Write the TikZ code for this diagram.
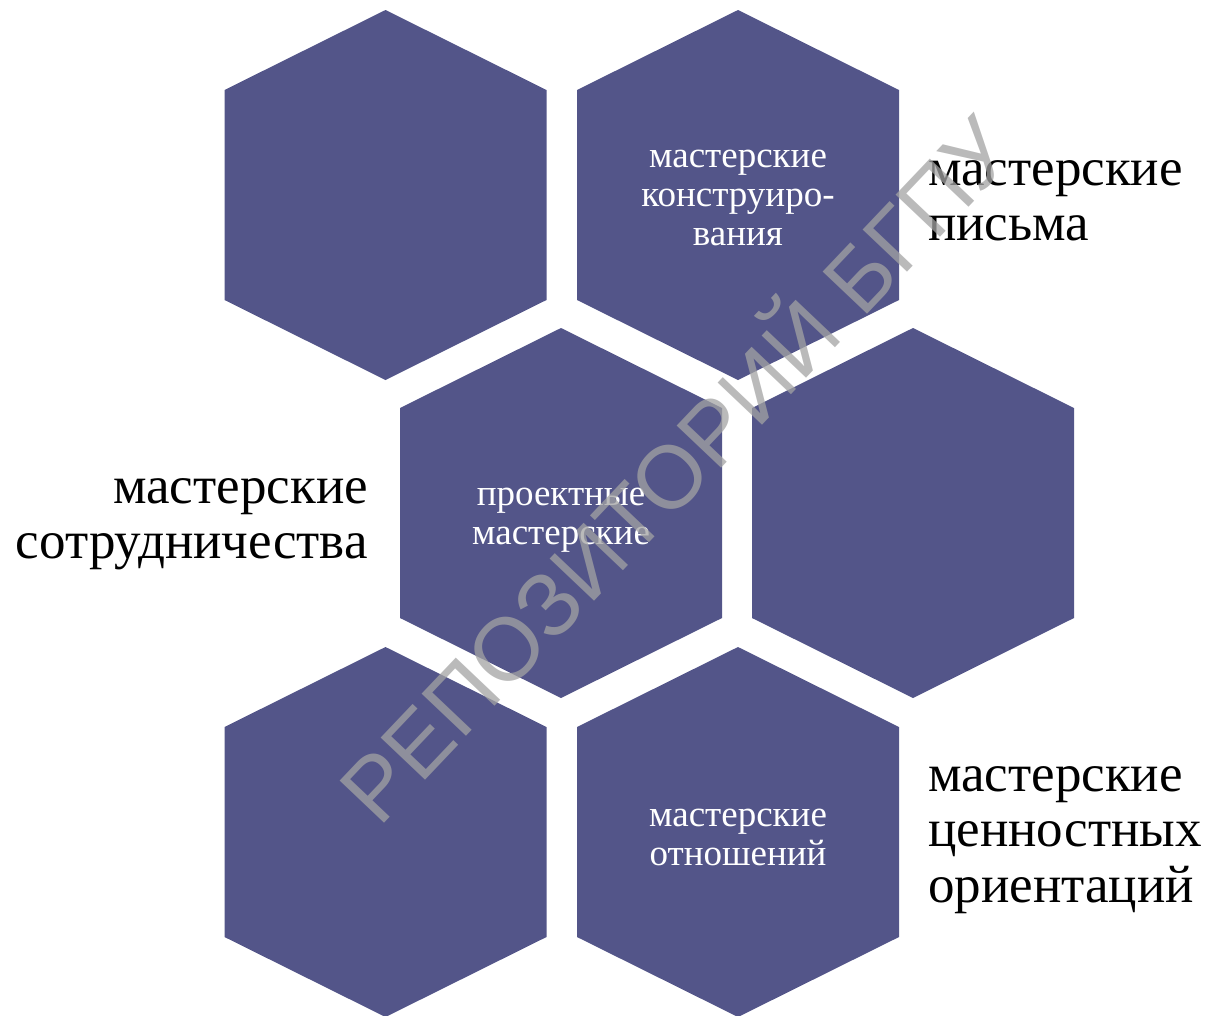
\documentclass[tikz,border=0pt]{standalone}
\usepackage{fontspec}
\setmainfont{Liberation Serif}
\newfontfamily\wmfont{Liberation Sans}
\definecolor{hexfill}{RGB}{83,85,137}
\tikzset{
  hexbox/.style={fill=hexfill, draw=none},
  intext/.style={text=white, align=center, font=\fontsize{37}{39}\selectfont, inner sep=0pt},
  outtext/.style={text=black, font=\fontsize{53}{55.5}\selectfont, inner sep=0pt},
}
\newcommand{\hexat}[1]{\fill[hexbox] (#1) ++(0,-185) -- ++(161,80) -- ++(0,210) -- ++(-161,80) -- ++(-161,-80) -- ++(0,-210) -- cycle;}
\begin{document}
\begin{tikzpicture}[x=1pt,y=-1pt]
\useasboundingbox (0,0) rectangle (1205,1015);
\coordinate (h1) at (385.5,195);
\coordinate (h2) at (738,195);
\coordinate (h3) at (561,513);
\coordinate (h4) at (913,513);
\coordinate (h5) at (385.5,832);
\coordinate (h6) at (738,832);
\hexat{h1}\hexat{h2}\hexat{h3}\hexat{h4}\hexat{h5}\hexat{h6}
\node[intext] (t2) at (738,198) {мастерские\\конструиро-\\вания};
\node[intext] (t3) at (561,520) {проектные\\мастерские};
\node[intext] (t6) at (738,837) {мастерские\\отношений};
\node[outtext, anchor=west, align=left] (o1) at (928,201) {мастерские\\письма};
\node[outtext, anchor=east, align=right] (o2) at (368,524) {мастерские\\сотрудничества};
\node[outtext, anchor=west, align=left] (o3) at (928,840) {мастерские\\ценностных\\ориентаций};
\node[rotate=46.5, text=black!36, opacity=0.75, font=\wmfont\fontsize{89}{95}\selectfont, inner sep=0pt] (wm) at (670,464) {РЕПОЗИТОРИЙ БГПУ};
\end{tikzpicture}
\end{document}
